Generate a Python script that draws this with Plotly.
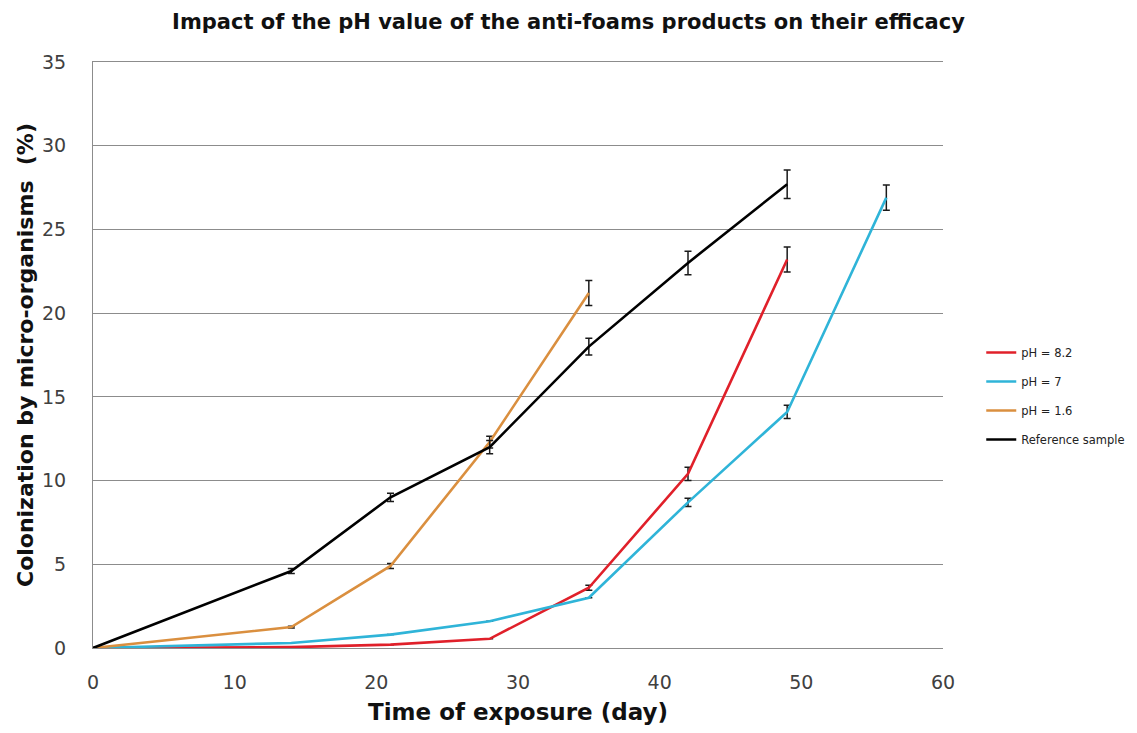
import plotly.graph_objects as go

days_ref = [0, 14, 21, 28, 35, 42, 49]
ref_vals = [0, 4.6, 9.0, 12.0, 18.0, 23.0, 27.7]
ref_err = [0, 0.15, 0.25, 0.4, 0.5, 0.7, 0.85]

days_16 = [0, 14, 21, 28, 35]
ph16_vals = [0, 1.25, 4.9, 12.3, 21.2]
ph16_err = [0, 0.05, 0.15, 0.35, 0.75]

days_82 = [0, 14, 21, 28, 35, 42, 49]
ph82_vals = [0, 0.05, 0.2, 0.55, 3.6, 10.4, 23.2]
ph82_err = [0, 0, 0, 0, 0.15, 0.4, 0.75]

days_7 = [0, 14, 21, 28, 35, 42, 49, 56]
ph7_vals = [0, 0.3, 0.8, 1.6, 3.0, 8.7, 14.1, 26.9]
ph7_err = [0, 0, 0, 0, 0, 0.25, 0.4, 0.75]

fig = go.Figure()

def add(x, y, err, name, color):
    fig.add_trace(go.Scatter(
        x=x, y=y, name=name, mode="lines", legendgroup=name,
        line=dict(color=color, width=2.6),
        error_y=dict(type="data", array=err, visible=True, color="#1a1a1a", thickness=1.5, width=3.5),
    ))

add(days_82, ph82_vals, ph82_err, "pH = 8.2", "#E0202A")
add(days_7, ph7_vals, ph7_err, "pH = 7", "#2FB4D8")
add(days_16, ph16_vals, ph16_err, "pH = 1.6", "#DA8F3F")
add(days_ref, ref_vals, ref_err, "Reference sample", "#000000")

fig.update_layout(
    width=1137, height=733,
    margin=dict(l=93, r=194, t=62, b=85, autoexpand=False),
    paper_bgcolor="white", plot_bgcolor="white",
    title=dict(text="<b>Impact of the pH value of the anti-foams products on their efficacy</b>",
               x=0.5, xanchor="center", y=0.97, yanchor="middle",
               font=dict(family="DejaVu Sans", size=21, color="#111")),
    legend=dict(x=1.045, xanchor="left", y=0.43, yanchor="middle",
                font=dict(family="DejaVu Sans", size=11.5, color="#222"),
                tracegroupgap=10, bgcolor="rgba(0,0,0,0)"),
    font=dict(family="DejaVu Sans"),
    annotations=[dict(text="<b>Colonization by micro-organisms  (%)</b>", textangle=-90,
                      xref="paper", yref="paper", x=-0.08, y=0.5,
                      xanchor="center", yanchor="middle", showarrow=False,
                      font=dict(family="DejaVu Sans", size=22, color="#111"))],
)

fig.update_xaxes(range=[0, 60], dtick=10, showgrid=False, zeroline=False,
                 showline=True, mirror=True, linecolor="#8c8c8c", linewidth=1.2,
                 ticks="", ticklabelstandoff=17, automargin=False,
                 tickfont=dict(size=19, color="#404040"),
                 title=dict(text="<b>Time of exposure (day)</b>", font=dict(size=23, color="#111"), standoff=11))
fig.update_yaxes(range=[0, 35], dtick=5, showgrid=True, gridcolor="#8c8c8c", gridwidth=1.2,
                 zeroline=False, showline=True, linecolor="#8c8c8c", linewidth=1.2, automargin=False,
                 tickfont=dict(size=19, color="#404040"), ticks="", ticklabelstandoff=22)

fig.write_html("out.html")
